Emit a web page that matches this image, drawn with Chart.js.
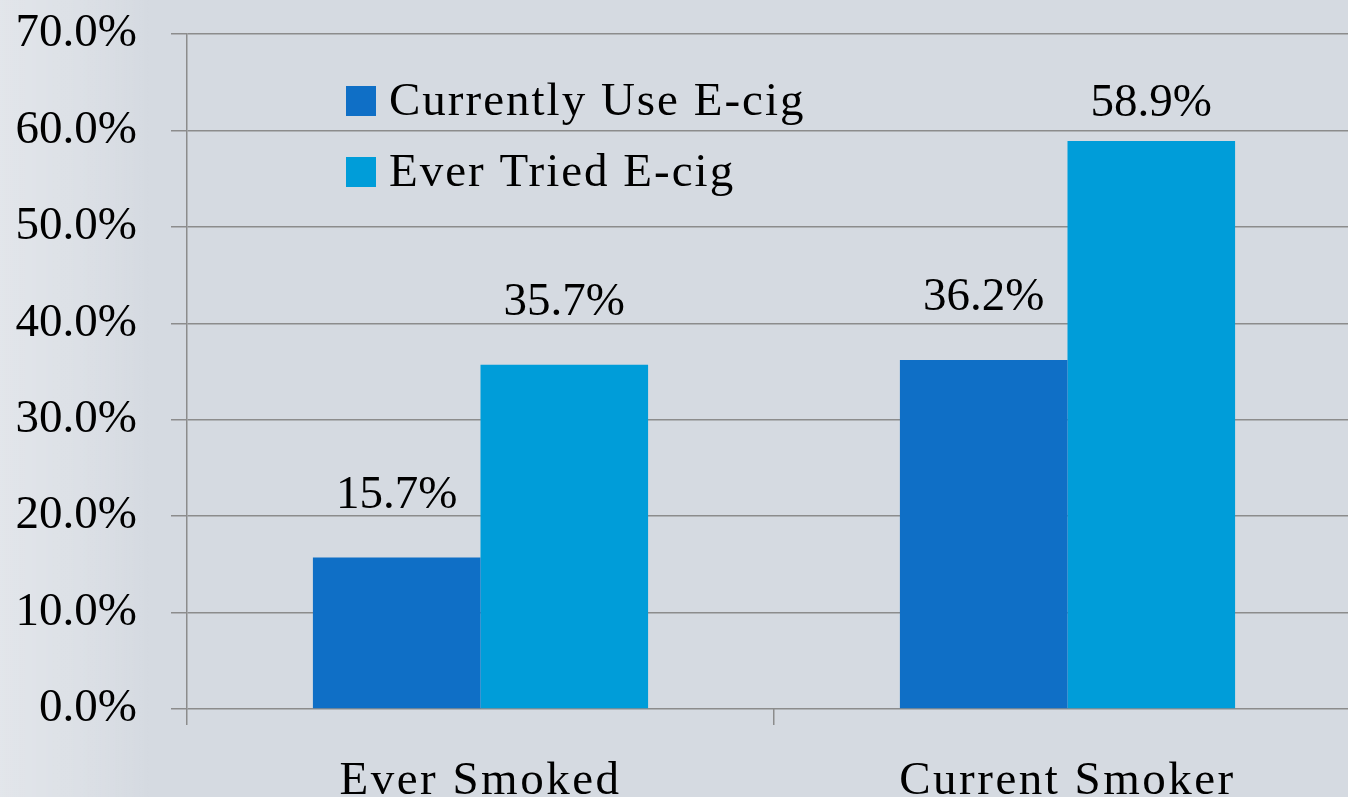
<!DOCTYPE html>
<html>
<head>
<meta charset="utf-8">
<script src="https://cdn.jsdelivr.net/npm/chart.js@4/dist/chart.umd.min.js"></script>
<style>
  html, body { margin: 0; padding: 0; overflow: hidden; width: 1348px; height: 797px; }
  body {
    background: linear-gradient(to right, rgba(255,255,255,0.32) 0px, rgba(255,255,255,0.12) 100px, rgba(255,255,255,0) 150px), #d5dae1;
  }
  #wrap { position: absolute; left: 0; top: 0; width: 1361px; height: 797px; }
</style>
</head>
<body>
<div id="wrap"><canvas id="c" width="1361" height="797"></canvas></div>
<script>
const categories = ["Ever Smoked", "Current Smoker"];
const seriesNames = ["Currently Use E-cig", "Ever Tried E-cig"];
const currentlyUse = [15.7, 36.2];
const everTried = [35.7, 58.9];
const yTicks = [0, 10, 20, 30, 40, 50, 60, 70];
const colors = ["#0f6fc6", "#009dd9"];

const FONT = "'Liberation Serif', 'Times New Roman', serif";
const FS = 47;

const labelPlugin = {
  id: 'valueLabels',
  afterDatasetsDraw(chart) {
    const ctx = chart.ctx;
    ctx.save();
    ctx.font = FS + "px " + FONT;
    ctx.fillStyle = "#000";
    ctx.textAlign = "center";
    ctx.textBaseline = "alphabetic";
    chart.data.datasets.forEach((ds, di) => {
      const meta = chart.getDatasetMeta(di);
      meta.data.forEach((bar, i) => {
        const base = Math.max(bar.y - 50, chart.chartArea.top + 82);
        ctx.fillText(ds.data[i].toFixed(1) + "%", bar.x, base);
      });
    });
    ctx.restore();
  }
};

const spacingPlugin = {
  id: 'xSpacing',
  afterDatasetsDraw(chart) {
    if ('letterSpacing' in chart.ctx) chart.ctx.letterSpacing = '2.5px';
  }
};

const legendPlugin = {
  id: 'customLegend',
  afterDraw(chart) {
    const ctx = chart.ctx;
    ctx.save();
    if ('letterSpacing' in ctx) ctx.letterSpacing = '2px';
    ctx.font = FS + "px " + FONT;
    ctx.textBaseline = "middle";
    ctx.textAlign = "left";
    chart.data.datasets.forEach((ds, i) => {
      const y = 86 + i * 71;
      ctx.fillStyle = ds.backgroundColor;
      ctx.fillRect(346, y, 30, 30);
      ctx.fillStyle = "#000";
      ctx.fillText(ds.label, 389, y + 17);
    });
    ctx.restore();
    if ('letterSpacing' in ctx) ctx.letterSpacing = '0px';
  }
};

new Chart(document.getElementById('c'), {
  type: 'bar',
  data: {
    labels: categories,
    datasets: [
      { label: seriesNames[0], data: currentlyUse, backgroundColor: colors[0], borderWidth: 0 },
      { label: seriesNames[1], data: everTried, backgroundColor: colors[1], borderWidth: 0 }
    ]
  },
  options: {
    responsive: false,
    animation: false,
    events: [],
    layout: { padding: { top: 34, right: 0, left: 0, bottom: 0 } },
    datasets: { bar: { categoryPercentage: 0.571, barPercentage: 1.0 } },
    plugins: { legend: { display: false }, tooltip: { enabled: false } },
    scales: {
      x: {
        offset: true,
        grid: { offset: true, drawOnChartArea: false, drawTicks: true, tickLength: 16, color: '#8c8c8c', lineWidth: 1.5 },
        border: { display: false },
        ticks: { z: 1, font: { family: FONT, size: FS }, color: '#000', padding: 28 },
        afterFit(scale) { scale.height = 88; scale.paddingLeft = 0; scale.paddingRight = 0; }
      },
      y: {
        min: 0, max: 70,
        afterBuildTicks(scale) { scale.ticks = yTicks.map(v => ({ value: v })); },
        grid: { color: '#8c8c8c', lineWidth: 1.5, tickLength: 16 },
        border: { display: true, color: '#8c8c8c', width: 1.5 },
        ticks: { font: { family: FONT, size: FS }, color: '#000', padding: 34,
                 callback: v => v.toFixed(1) + "%" },
        afterFit(scale) { scale.width = 187; scale.paddingTop = 0; scale.paddingBottom = 0; }
      }
    }
  },
  plugins: [labelPlugin, spacingPlugin, legendPlugin]
});
</script>
</body>
</html>
